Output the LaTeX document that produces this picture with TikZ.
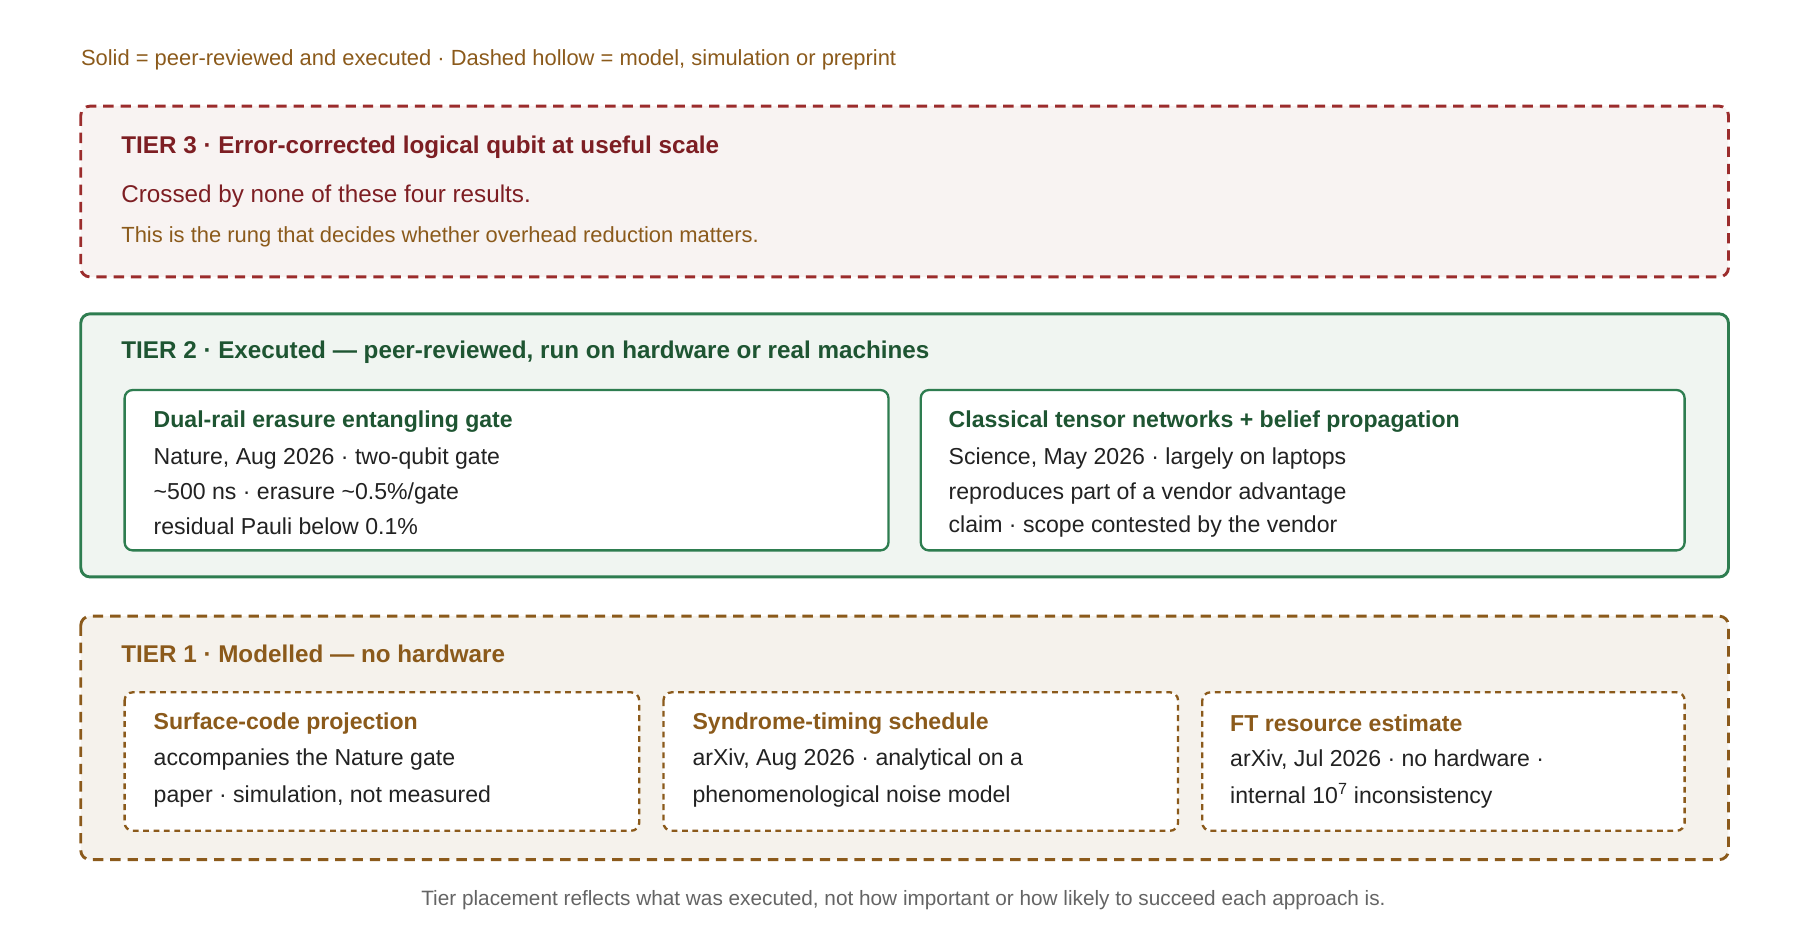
\documentclass[tikz,border=0pt]{standalone}
\usepackage{fontspec}
\setmainfont{Liberation Sans}
\usepackage{tikz}
\usetikzlibrary{positioning}
\definecolor{mybrown}{RGB}{139,90,27}
\definecolor{myred}{RGB}{155,44,44}
\definecolor{mydarkred}{RGB}{125,30,35}
\definecolor{mygreen}{RGB}{46,125,80}
\definecolor{mydarkgreen}{RGB}{30,85,50}
\definecolor{myink}{RGB}{34,34,34}
\definecolor{mygrey}{RGB}{100,100,100}
\newcommand{\fs}[1]{\fontsize{#1}{#1}\selectfont}

\begin{document}
\begin{tikzpicture}[
  x=1pt, y=-1pt,
  tier/.style={rounded corners=8, line width=2.5},
  card/.style={rounded corners=7, line width=2, fill=white},
  head/.style={anchor=west, font=\fs{21}\bfseries, inner sep=0},
  cardhead/.style={anchor=west, font=\fs{20}\bfseries, inner sep=0},
  line/.style={anchor=west, font=\fs{20}, text=myink, inner sep=0}
]
\useasboundingbox (0,0) rectangle (1560,815);

% legend
\node [anchor=west, inner sep=0, font=\fs{19}, text=mybrown] (legend) at (70,52)
  {Solid = peer-reviewed and executed · Dashed hollow = model, simulation or preprint};

% tier 3
\draw [tier, draw=myred, fill={rgb,255:red,248;green,243;blue,242}, dash pattern=on 9 off 6]
  (70,92) rectangle (1498,240);
\node [head, text=mydarkred] (t3) at (105,128) {TIER 3 · Error-corrected logical qubit at useful scale};
\node [anchor=west, inner sep=0, font=\fs{21}, text=mydarkred] (t3a) at (105,170) {Crossed by none of these four results.};
\node [anchor=west, inner sep=0, font=\fs{19}, text=mybrown] (t3b) at (105,205) {This is the rung that decides whether overhead reduction matters.};

% tier 2
\draw [tier, draw=mygreen, fill={rgb,255:red,240;green,245;blue,241}] (70,272) rectangle (1498,500);
\node [head, text=mydarkgreen] (t2) at (105,305) {TIER 2 · Executed — peer-reviewed, run on hardware or real machines};
\draw [card, draw=mygreen] (108,338) rectangle (770,477);
\draw [card, draw=mygreen] (798,338) rectangle (1460,477);
\node [cardhead, text=mydarkgreen] (gate) at (133,365) {Dual-rail erasure entangling gate};
\node [line] (gate1) at (133,397) {Nature, Aug 2026 · two-qubit gate};
\node [line] (gate2) at (133,428) {\textasciitilde500 ns · erasure \textasciitilde0.5\%/gate};
\node [line] (gate3) at (133,456) {residual Pauli below 0.1\%};
\node [cardhead, text=mydarkgreen] (tn) at (822,365) {Classical tensor networks + belief propagation};
\node [line] (tn1) at (822,397) {Science, May 2026 · largely on laptops};
\node [line] (tn2) at (822,428) {reproduces part of a vendor advantage};
\node [line] (tn3) at (822,456) {claim · scope contested by the vendor};

% tier 1
\draw [tier, draw=mybrown, fill={rgb,255:red,245;green,242;blue,236}, dash pattern=on 9 off 6]
  (70,534) rectangle (1498,745);
\node [head, text=mybrown] (t1) at (105,567) {TIER 1 · Modelled — no hardware};
\foreach \xa/\xb in {108/554, 575/1021, 1042/1460}
  \draw [card, draw=mybrown, dash pattern=on 5 off 4] (\xa,600) rectangle (\xb,720);
\node [cardhead, text=mybrown] (sc) at (133,627) {Surface-code projection};
\node [line] (sc1) at (133,658) {accompanies the Nature gate};
\node [line] (sc2) at (133,690) {paper · simulation, not measured};
\node [cardhead, text=mybrown] (st) at (600,627) {Syndrome-timing schedule};
\node [line] (st1) at (600,658) {arXiv, Aug 2026 · analytical on a};
\node [line] (st2) at (600,690) {phenomenological noise model};
\node [cardhead, text=mybrown] (ft) at (1066,627) {FT resource estimate};
\node [line] (ft1) at (1066,658) {arXiv, Jul 2026 · no hardware ·};
\node [line] (ft2) at (1066,690) {internal 10\textsuperscript{7} inconsistency};

% footer
\node [inner sep=0, font=\fs{18}, text=mygrey] (foot) at (783,780)
  {Tier placement reflects what was executed, not how important or how likely to succeed each approach is.};
\end{tikzpicture}
\end{document}
